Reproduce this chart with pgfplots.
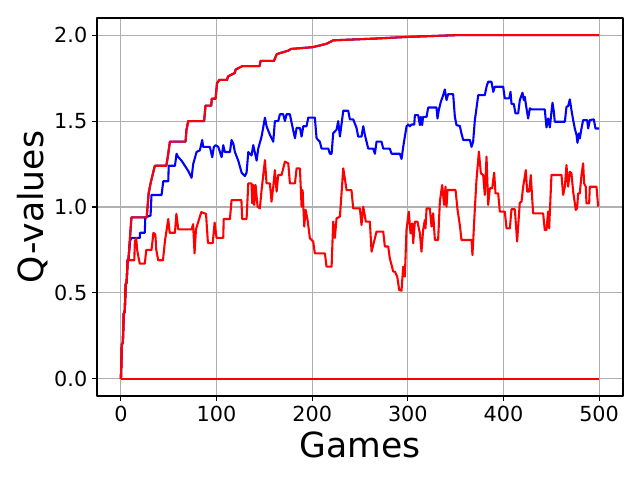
\documentclass[border=0pt]{standalone}
\usepackage{fontspec}
\setmainfont{DejaVu Sans}
\usepackage{pgfplots}
\pgfplotsset{compat=1.18}

\definecolor{gridgray}{HTML}{B0B0B0}

\pgfplotstableread{
x y
0 0
1 0.2
2 0.21
3 0.38
4 0.39
5 0.55
6 0.56
7 0.69
8 0.70
9.5 0.82
11 0.94
27 0.94
29 1.08
31.5 1.15
35.5 1.24
47.5 1.24
49.5 1.31
51.2 1.38
67.6 1.38
68.6 1.45
70.4 1.50
87 1.50
88.5 1.59
94.5 1.59
95 1.63
99 1.63
100.5 1.72
103 1.74
111 1.74
112 1.76
119 1.78
120 1.80
127 1.82
145 1.82
146 1.85
160 1.85
163 1.89
175 1.91
178 1.92
200 1.93
208 1.94
215 1.95
222 1.97
265 1.98
300 1.99
350 2.0
500 2.0
}\toptable

\pgfplotstableread{
x y
0 0
1 0.2
2 0.21
3 0.38
4 0.39
5 0.55
6 0.56
7 0.69
8 0.70
9.5 0.80
11 0.82
19.8 0.82
20 0.85
25 0.85
25.5 0.94
31 0.95
32 1.07
42.5 1.07
44.3 1.15
49.5 1.15
50 1.24
56.5 1.24
58.2 1.31
60 1.29
63.4 1.27
66.9 1.24
70.4 1.21
73.9 1.17
75.6 1.25
79.1 1.32
82.6 1.33
85 1.39
86 1.35
93 1.35
95.5 1.29
97.2 1.35
99 1.36
101.8 1.35
105.3 1.29
107 1.36
108.7 1.32
114 1.32
115.7 1.39
117.5 1.37
119.2 1.32
122.7 1.27
126.2 1.20
129.7 1.18
131.4 1.20
133.2 1.32
136.6 1.30
138.4 1.36
141.9 1.27
143.6 1.34
147.1 1.41
150.6 1.52
152.3 1.47
155.8 1.42
159.3 1.38
161 1.50
164.5 1.50
166.3 1.54
169.7 1.54
171.5 1.50
173.2 1.54
176.7 1.54
178.5 1.49
182 1.40
183.7 1.46
187.2 1.46
188.9 1.41
190.7 1.47
194.1 1.47
195.9 1.52
202.8 1.52
204.6 1.40
208 1.38
209.8 1.34
216.8 1.34
218.5 1.31
220.3 1.31
222 1.43
225.5 1.45
227.2 1.50
229 1.41
232.5 1.56
237.7 1.56
239.4 1.51
242.9 1.51
246.4 1.46
248.1 1.41
251.6 1.41
253.4 1.47
255.1 1.42
258.6 1.34
263.8 1.34
265.6 1.31
267.3 1.38
272.5 1.38
274.3 1.34
281.2 1.34
283 1.31
291.7 1.31
293.4 1.28
295.2 1.35
296.9 1.41
298.7 1.47
300.4 1.48
302.1 1.47
303.9 1.48
306.7 1.48
307.4 1.535
310.8 1.535
312.6 1.477
313.6 1.525
315 1.477
316 1.525
319.6 1.525
321.3 1.579
330 1.579
331 1.515
332.4 1.564
334.5 1.612
337 1.651
338.7 1.684
340.5 1.622
342.2 1.657
347.4 1.657
349.2 1.525
350.9 1.477
354.4 1.471
356.1 1.428
357.9 1.39
364.9 1.39
366.6 1.35
368.3 1.38
370.1 1.506
371.8 1.574
373.6 1.651
380.5 1.651
382.3 1.70
384 1.729
387.5 1.729
389.3 1.67
391 1.70
399.7 1.70
401.4 1.632
406 1.632
407.4 1.67
408.4 1.60
410.8 1.60
412.6 1.545
415.4 1.545
417.1 1.622
419.9 1.665
421.3 1.622
422.3 1.641
424.1 1.574
425.8 1.515
427.6 1.574
429.3 1.568
443.2 1.568
445 1.463
446.7 1.515
448.5 1.463
450.2 1.554
451.3 1.607
452.7 1.554
453.7 1.496
464.2 1.496
465.9 1.583
467.6 1.587
469.4 1.626
471.1 1.564
472.9 1.506
474.6 1.457
476.4 1.419
477.4 1.374
478.8 1.428
479.8 1.399
481.6 1.457
483.3 1.506
487.5 1.506
488.6 1.457
490.3 1.506
494.5 1.51
496.2 1.457
500 1.457
}\bluetable

\pgfplotstableread{
x y
0 0
1 0.2
2 0.21
3 0.38
4 0.39
5 0.55
6 0.56
7 0.69
14 0.69
14.6 0.80
16 0.82
17 0.75
19 0.69
19.8 0.67
25 0.67
26.5 0.75
32 0.75
34 0.85
36 0.84
37 0.75
39 0.69
44 0.69
46 0.80
49.5 0.93
51 0.85
56.5 0.85
58 0.96
60 0.87
74 0.87
75.5 0.90
77 0.73
78.5 0.87
84 0.97
89 0.96
91 0.79
96 0.79
98 0.91
100 0.82
107 0.82
107.5 0.93
114 0.93
115.7 1.04
126 1.04
126.8 0.93
131.4 0.93
133.2 1.137
136.6 1.137
137.3 1.021
138.4 1.128
139.4 1.012
140.8 1.128
142.9 1.002
145.3 0.992
147.1 1.099
150.6 1.273
152.3 1.137
155.8 1.137
157.5 1.031
159.3 1.118
161 1.215
162.8 1.089
164.5 1.186
168 1.186
171.5 1.264
175 1.254
176.7 1.137
182 1.137
183.7 1.225
187.2 1.225
188.9 1.002
190 1.099
191.7 0.886
193.1 0.983
195.2 0.924
197.6 0.818
201.1 0.798
202.8 0.73
213.3 0.73
215 0.653
220.3 0.653
222 0.915
223.7 0.82
225.5 0.934
229 0.944
232.5 1.225
236 1.098
241.1 1.098
242.9 0.992
249.9 0.992
251.6 0.895
253.4 1.002
256.1 0.915
260.3 0.915
262.1 0.74
267.3 0.857
274.3 0.857
276 0.77
279.5 0.77
281.2 0.70
283 0.663
284.7 0.624
286.5 0.624
288.9 0.595
291 0.517
293.4 0.513
295.2 0.653
296.9 0.595
298.6 0.866
301 0.973
302.8 0.847
304.6 0.905
305.6 0.789
307.4 0.915
310.1 0.915
312.6 0.847
314.3 0.74
316 0.866
317.8 0.924
318.5 0.876
319.6 0.992
323 0.992
324.8 0.886
326.5 0.963
328.3 0.808
331.7 0.808
333.5 1.031
335.9 1.128
338 1.012
339.4 1.118
340.5 1.002
341.5 1.099
349.9 1.099
352 0.983
354.4 0.895
356.1 0.808
366.6 0.808
367.6 0.72
370.1 0.992
371.8 1.157
374.3 1.322
376.4 1.196
378.8 1.186
380.5 1.07
382.3 1.293
384 1.012
385.8 1.109
388.2 1.109
390.3 1.2
391.7 1.079
394.5 1.079
396.2 0.973
401.4 0.973
403.2 0.876
406.7 0.876
408.4 0.987
411.9 0.987
414.3 0.799
417.1 1.025
418.9 1.031
420.6 1.118
423.4 1.215
424.8 1.089
426.9 1.089
428.6 1.186
431 0.963
441.5 0.963
443.2 0.866
445 0.866
446.7 0.973
447.8 0.876
450.2 1.186
460.7 1.186
462.4 1.07
464.2 1.118
465.9 1.244
467.6 1.118
469.4 1.205
471.1 1.196
472.9 1.089
475.6 0.983
477 0.992
478.1 1.079
479.8 1.079
481.6 1.186
483.3 1.254
484.4 1.137
486.1 1.118
486.8 1.021
489.6 1.021
490.3 1.118
497.3 1.118
499 1.002
}\redtable

\begin{document}
\begin{tikzpicture}
\path[use as bounding box] (-69.84bp,-60.48bp) rectangle (390.96bp,285.12bp);
\begin{axis}[
    at={(0,0)}, anchor=south west,
    scale only axis,
    width=378.72bp,
    height=272.16bp,
    xmin=-25, xmax=525,
    ymin=-0.1, ymax=2.1,
    xtick={0,100,...,500},
    ytick={0,0.5,1.0,1.5,2.0},
    yticklabel style={/pgf/number format/.cd, fixed, fixed zerofill, precision=1},
    /pgf/number format/assume math mode=true,
    tick label style={font=\fontsize{15}{18}\selectfont},
    tick align=outside,
    major tick length=3.5bp,
    every tick/.style={black, line width=0.8bp},
    xtick pos=bottom, ytick pos=left,
    axis line style={line width=0.8bp},
    grid=major,
    major grid style={gridgray, line width=0.8bp},
    xlabel={Games},
    ylabel={Q-values},
    label style={font=\fontsize{25}{30}\selectfont},
    xlabel style={at={(axis description cs:0.5,-0.164)}, anchor=base},
    ylabel style={at={(axis description cs:-0.102,0.5)}, anchor=base, rotate=0},
    line join=round,
]
\addplot[blue, line width=1.5bp] table {\toptable};
\addplot[blue, line width=1.5bp] table {\bluetable};
\addplot[red, line width=1.5bp] coordinates {(0,0) (500,0)};
\addplot[red, line width=1.5bp] table {\toptable};
\addplot[red, line width=1.5bp] table {\redtable};
\end{axis}
\end{tikzpicture}
\end{document}
